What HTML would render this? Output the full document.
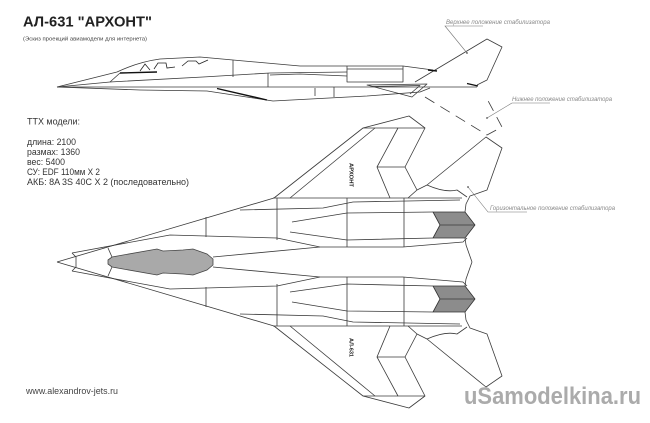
<!DOCTYPE html>
<html><head><meta charset="utf-8">
<style>
html,body{margin:0;padding:0;background:#fff;}
svg{display:block;}
text{font-family:"Liberation Sans","DejaVu Sans",sans-serif;}
</style></head>
<body>
<svg width="650" height="423" viewBox="0 0 650 423" xmlns="http://www.w3.org/2000/svg">
<rect width="650" height="423" fill="#fff"/>

<!-- Title -->
<text x="23" y="26.5" font-size="14.5" font-weight="bold" fill="#222" textLength="129" lengthAdjust="spacingAndGlyphs">АЛ-631 "АРХОНТ"</text>
<text x="23" y="40.5" font-size="5.6" fill="#444" textLength="124" lengthAdjust="spacingAndGlyphs">(Эскиз проекций авиамодели для интернета)</text>

<!-- TTX block -->
<g font-size="9" fill="#333">
<text x="27" y="124.5" textLength="53" lengthAdjust="spacingAndGlyphs">ТТХ модели:</text>
<text x="27" y="145" textLength="49" lengthAdjust="spacingAndGlyphs">длина: 2100</text>
<text x="27" y="155" textLength="53" lengthAdjust="spacingAndGlyphs">размах: 1360</text>
<text x="27" y="165" textLength="38" lengthAdjust="spacingAndGlyphs">вес: 5400</text>
<text x="27" y="175" textLength="73" lengthAdjust="spacingAndGlyphs">СУ: EDF 110мм X 2</text>
<text x="27" y="185" textLength="162" lengthAdjust="spacingAndGlyphs">АКБ: 8A 3S 40C X 2 (последовательно)</text>
</g>

<text x="26" y="394" font-size="9" fill="#444" textLength="92" lengthAdjust="spacingAndGlyphs">www.alexandrov-jets.ru</text>

<!-- Watermark -->
<text x="464" y="404" font-size="24" font-weight="bold" fill="#ababab" textLength="177" lengthAdjust="spacingAndGlyphs">uSamodelkina.ru</text>

<!-- SIDE VIEW -->
<g fill="none" stroke="#3a3a3a" stroke-width="0.8" stroke-linejoin="round">
  <path d="M57,87 L117,72 Q138,62 160,59 L200,57 L233,60 L300,66 L403,66 L433,70"/>
  <path d="M57,87 L110,82 L203,77 L270,73 L347,72"/>
  <path d="M110,82 L120,73"/>
  <path d="M57,87 L477,87"/>
  <path d="M57,87 L140,90 L207,91 L273,101 L367,96 L420,92 L430,88"/>
  <path d="M347,66 L347,82 L403,82 L403,66 M347,69 L403,69"/>
  <path d="M233,60 L233,77 M268,73 L268,87 M315,88 L315,96 M334,87 L334,97"/>
  <path d="M270,75 L300,74 L347,76"/>
  <!-- horizontal stab (side) -->
  <path d="M367,85 L427,84 L412,97 Z"/>
  <path d="M372,86.5 L420,85.5 L410,94"/>
  <!-- upper stab position -->
  <path d="M415,82 L487,39 L502,47 L487,80 L477,85"/>
  <!-- lower stab position dashed -->
  <path d="M425,97 L487,135 L502,127 L485,95" stroke-dasharray="11,7"/>
</g>
<g stroke="#111" stroke-width="1.4" fill="none">
  <path d="M120,73 L157,72"/>
  <path d="M217,88.5 L267,100"/>
  <path d="M428,70 L437,71"/>
  <path d="M467,83.5 L478,86"/>
</g>
<g stroke="#222" stroke-width="0.8" fill="none">
  <path d="M140,71 L145,64 L150,70 M154,69 L158,63 L166,63 L167,68 L175,67 M182,66 L188,61 L196,61 L199,64 L208,60"/>
</g>

<!-- TOP VIEW (upper half, mirrored for lower) -->
<g id="half" fill="none" stroke="#3a3a3a" stroke-width="0.8" stroke-linejoin="round">
  <path d="M57,262 L274,198 L363,128 L409,116 L425,128 L405,167 L417,190 L427,185 L486,137 L502,148 L487,190 L470,196 L466,204 L465,212"/>
  <path d="M290,198 L375,128"/>
  <path d="M363,128 L425,128"/>
  <path d="M398,128 L377,167 L390,198 M377,167 L405,167"/>
  <path d="M417,190 L408,198"/>
  <path d="M427,185 Q445,193 457,190 L467,197"/>
  <path d="M273,198 L462,198"/>
  <path d="M240,210 L323,208 L353,202 L460,200"/>
  <path d="M292,222 L347,213 L433,212"/>
  <path d="M290,232 L347,240 L433,238"/>
  <path d="M72,253 L170,235 L277,238 L320,247 L403,247 L463,242 L467,238"/>
  <path d="M213,257 L320,247"/>
  <path d="M72,253 L76,257 L76,262"/>
  <path d="M108,248 L112,257"/>
  <path d="M206,217 L206,237 M277,198 L277,240 M347,198 L347,247 M404,198 L404,247"/>
  <path d="M465,238 L466,245 L472,262"/>
  <path d="M433,212 L465,212 L475,225 L465,238 L433,238 L440,225 Z" fill="#8c8c8c" stroke="#333"/>
  <path d="M440,225 L475,225"/>
</g>
<use href="#half" transform="translate(0,524) scale(1,-1)"/>

<!-- canopy -->
<path d="M108,260 L112,257 L157,249 L163,251 L183,250 L193,249 L207,254 L213,259 L213,265 L207,270 L193,275 L183,274 L163,273 L157,275 L112,267 L108,264 Z" fill="#a9a9a9" stroke="#444" stroke-width="0.8"/>

<!-- vertical labels -->
<text font-size="5.5" font-weight="bold" fill="#222" transform="translate(349.5,163) rotate(90)" textLength="24" lengthAdjust="spacingAndGlyphs">АРХОНТ</text>
<text font-size="5.5" font-weight="bold" fill="#222" transform="translate(349.5,338) rotate(90)" textLength="19" lengthAdjust="spacingAndGlyphs">АЛ-631</text>

<!-- annotation labels -->
<g fill="none" stroke="#777" stroke-width="0.6">
  <path d="M467,53 L445,26 L483,26"/>
  <path d="M487,118 L512,103 L550,103"/>
  <path d="M468,187 L488,212 L527,212"/>
</g>
<g fill="#555">
  <circle cx="467" cy="53" r="0.9"/>
  <circle cx="487" cy="118" r="0.9"/>
  <circle cx="468" cy="187" r="0.9"/>
</g>
<g font-size="6.3" font-style="italic" fill="#888">
  <text x="446" y="24" textLength="104" lengthAdjust="spacingAndGlyphs">Верхнее положение стабилизатора</text>
  <text x="512" y="101" textLength="100" lengthAdjust="spacingAndGlyphs">Нижнее положение стабилизатора</text>
  <text x="490" y="210" textLength="125" lengthAdjust="spacingAndGlyphs">Горизонтальное положение стабилизатора</text>
</g>
</svg>
</body></html>
